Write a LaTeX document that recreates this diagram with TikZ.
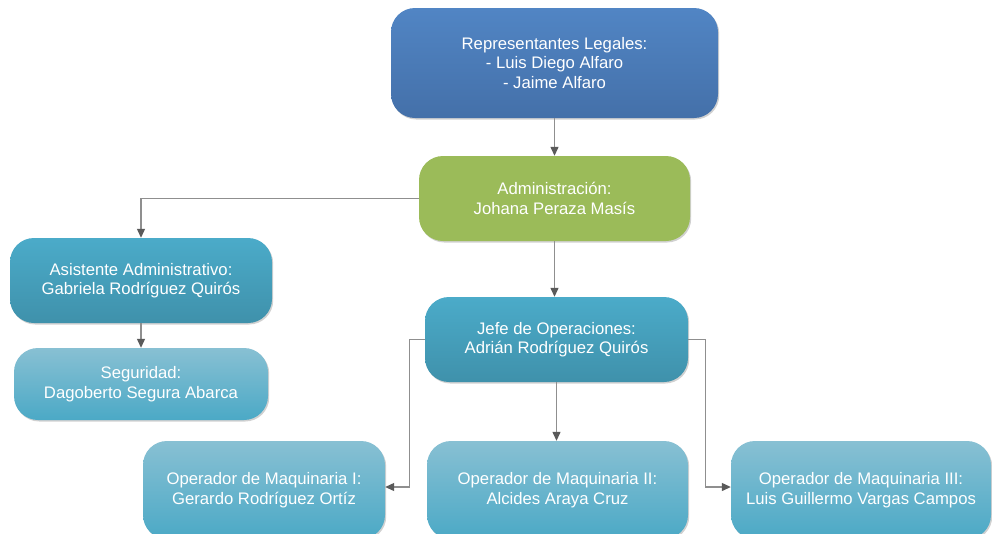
\documentclass[tikz,border=0pt]{standalone}
\usepackage{fontspec}
\setmainfont{Liberation Sans}
\usetikzlibrary{shadows,arrows.meta}
\definecolor{bluetop}{HTML}{5185C4}
\definecolor{bluebot}{HTML}{4470A9}
\definecolor{greenbox}{HTML}{9BBB59}
\definecolor{tealtop}{HTML}{4BABC9}
\definecolor{tealbot}{HTML}{3F91AB}
\definecolor{lighttop}{HTML}{88C0D3}
\definecolor{lightbot}{HTML}{4BA9C6}
\definecolor{linecol}{HTML}{8F8F8F}
\definecolor{tipcol}{HTML}{5A5A5A}
\begin{document}
\begin{tikzpicture}[x=1pt,y=-1pt,
  box/.style={rectangle, rounded corners=24pt, draw=none, text=white, align=center,
    font=\fontsize{16.7}{19.6}\selectfont, inner sep=0pt,
    drop shadow={shadow xshift=1.2pt, shadow yshift=-1.5pt, opacity=0.18, fill=black}},
  bluebox/.style={box, top color=bluetop, bottom color=bluebot},
  greenb/.style={box, fill=greenbox},
  tealb/.style={box, top color=tealtop, bottom color=tealbot},
  lightb/.style={box, top color=lighttop, bottom color=lightbot},
  conn/.style={draw=linecol, line width=1.2pt, -{Triangle[length=9pt,width=8pt,fill=tipcol,color=tipcol]}}
]
\useasboundingbox (0,0) rectangle (992,533);
\fill[white] (0,0) rectangle (992,533);
\begin{scope}
\clip (0,0) rectangle (992,533);
\node[bluebox, minimum width=327pt, minimum height=110pt] (rep) at (554.5,63)
  {Representantes Legales:\\- Luis Diego Alfaro\\- Jaime Alfaro};
\node[greenb, minimum width=271pt, minimum height=85pt] (adm) at (554.5,198.5)
  {Administración:\\Johana Peraza Masís};
\node[tealb, minimum width=262pt, minimum height=85pt] (asis) at (141,280.5)
  {Asistente Administrativo:\\Gabriela Rodríguez Quirós};
\node[lightb, minimum width=254pt, minimum height=72pt] (seg) at (141,384)
  {Seguridad:\\Dagoberto Segura Abarca};
\node[tealb, minimum width=263pt, minimum height=85pt] (jefe) at (556.5,339.5)
  {Jefe de Operaciones:\\Adrián Rodríguez Quirós};
\node[lightb, minimum width=242pt, minimum height=98pt] (op1) at (264,490)
  {Operador de Maquinaria I:\\Gerardo Rodríguez Ortíz};
\node[lightb, minimum width=261pt, minimum height=98pt] (op2) at (557.5,490)
  {Operador de Maquinaria II:\\Alcides Araya Cruz};
\node[lightb, minimum width=260pt, minimum height=98pt] (op3) at (861,490)
  {Operador de Maquinaria III:\\Luis Guillermo Vargas Campos};

\draw[conn] (rep.south) -- (rep.south |- adm.north);
\draw[conn] (adm.west) -| (asis.north);
\draw[conn] (adm.south) -- (adm.south |- jefe.north);
\draw[conn] (asis.south) -- (asis.south |- seg.north);
\draw[conn] (jefe.west) -- ++(-15,0) |- ([yshift=3pt]op1.east);
\draw[conn] (jefe.east) -- ++(17,0) |- ([yshift=3pt]op3.west);
\draw[conn] (jefe.south) -- (jefe.south |- op2.north);
\end{scope}
\end{tikzpicture}
\end{document}
